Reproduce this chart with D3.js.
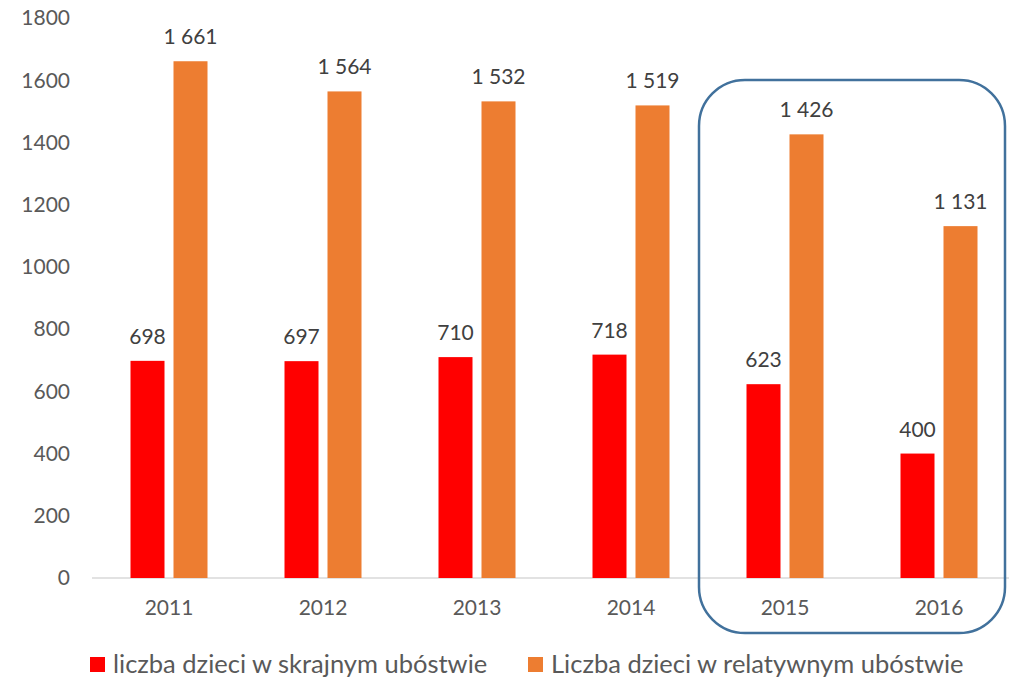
<!DOCTYPE html>
<html><head><meta charset="utf-8">
<script src="https://cdn.jsdelivr.net/npm/d3@7"></script>
<style>body{margin:0;background:#fff;} svg{display:block;font-family:Lato,"Open Sans",sans-serif;}</style>
</head><body>
<svg id="c" width="1009" height="679"></svg>
<script>
const years = ["2011","2012","2013","2014","2015","2016"];
const extreme = [698, 697, 710, 718, 623, 400];
const relative = [1661, 1564, 1532, 1519, 1426, 1131];
const yTicks = [0,200,400,600,800,1000,1200,1400,1600,1800];
const seriesNames = ["liczba dzieci w skrajnym ubóstwie", "Liczba dzieci w relatywnym ubóstwie"];
const colors = ["#FF0000", "#ED7D31"];

const svg = d3.select("#c");
const x = d3.scaleBand().domain(years).range([92, 1016]);
const y = d3.scaleLinear().domain([0, 1800]).range([578, 18]);
const fmt = v => d3.format(",")(v).replace(/,/g, " ");

// y tick labels
svg.append("g").selectAll("text").data(yTicks).join("text")
  .attr("x", 70).attr("y", d => y(d)).attr("dy", "0.35em")
  .attr("text-anchor", "end").attr("font-size", 21).attr("fill", "#595959")
  .text(d => d);

// axis line
svg.append("line").attr("x1", 92).attr("x2", 1012).attr("y1", y(0)).attr("y2", y(0))
  .attr("stroke", "#D9D9D9").attr("stroke-width", 1.5);

const bw = 34, gap = 9;
const series = [extreme, relative];
series.forEach((vals, si) => {
  const g = svg.append("g");
  const bx = (d, i) => x(years[i]) + x.bandwidth()/2 - (bw*2+gap)/2 + si*(bw+gap);
  g.selectAll("rect").data(vals).join("rect")
    .attr("x", bx).attr("width", bw)
    .attr("y", d => y(d)).attr("height", d => y(0) - y(d))
    .attr("fill", colors[si]);
  g.selectAll("text").data(vals).join("text")
    .attr("x", (d, i) => bx(d, i) + bw/2).attr("y", d => y(d) - 17)
    .attr("text-anchor", "middle").attr("font-size", 21).attr("fill", "#404040")
    .text(fmt);
});

// x labels
svg.append("g").selectAll("text").data(years).join("text")
  .attr("x", d => x(d) + x.bandwidth()/2).attr("y", 615)
  .attr("text-anchor", "middle").attr("font-size", 21).attr("fill", "#595959")
  .text(d => d);

// highlight rounded rectangle
svg.append("rect").attr("x", 699).attr("y", 80).attr("width", 306).attr("height", 553)
  .attr("rx", 46).attr("ry", 46).attr("fill", "none")
  .attr("stroke", "#41719C").attr("stroke-width", 2.5);

// legend
const leg = [{x: 90, t: seriesNames[0], c: colors[0]}, {x: 528, t: seriesNames[1], c: colors[1]}];
leg.forEach(l => {
  svg.append("rect").attr("x", l.x).attr("y", 657).attr("width", 15).attr("height", 15).attr("fill", l.c);
  svg.append("text").attr("x", l.x + 23).attr("y", 664.5).attr("dy", "0.35em")
    .attr("font-size", 25.5).attr("fill", "#595959").text(l.t);
});
</script>
</body></html>
